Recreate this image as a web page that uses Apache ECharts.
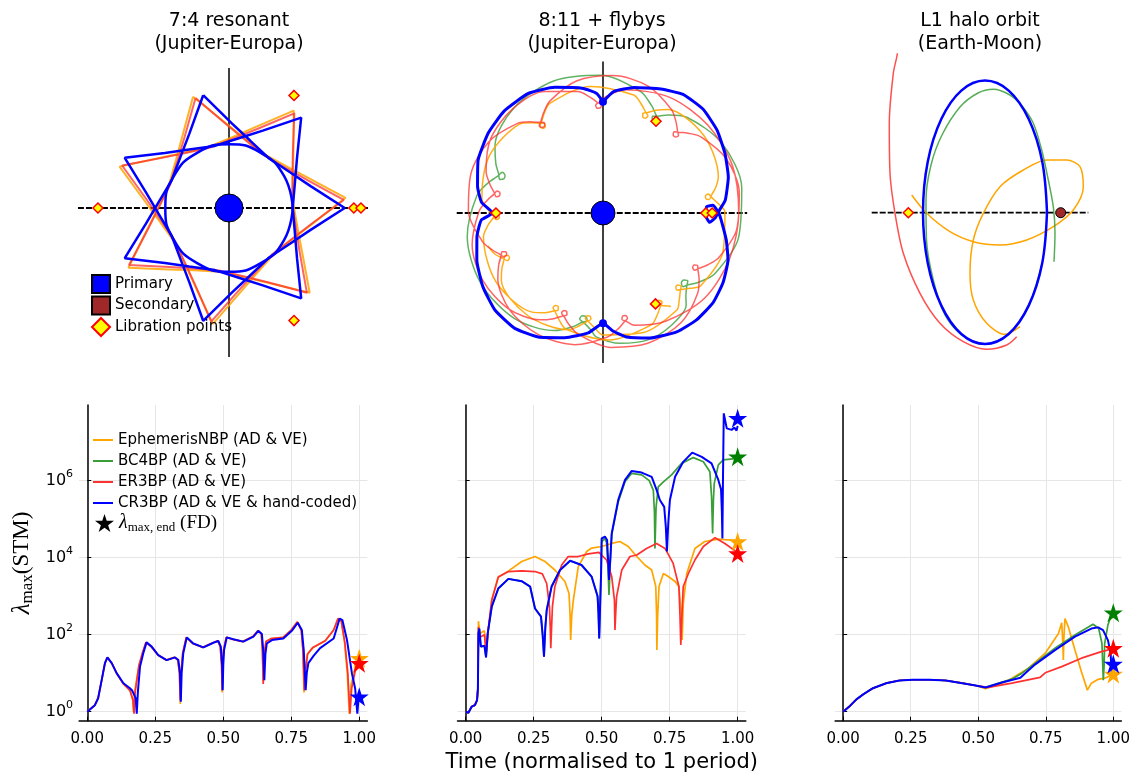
<!DOCTYPE html>
<html>
<head>
<meta charset="utf-8">
<title>STM eigenvalue growth</title>
<script src="https://cdn.jsdelivr.net/npm/echarts@6/dist/echarts.min.js"></script>
<style>
html, body { margin: 0; padding: 0; background: #fff; }
#chart { width: 1133px; height: 774px; }
</style>
</head>
<body>
<div id="chart"></div>
<script>
// ---------- names / ticks ----------
var seriesNames = ['EphemerisNBP (AD & VE)', 'BC4BP (AD & VE)', 'ER3BP (AD & VE)', 'CR3BP (AD & VE & hand-coded)'];
var xTicks = [0, 0.25, 0.5, 0.75, 1];
var yTicks = [1, 100, 10000, 1000000];
var plotTitles = [['7:4 resonant', '(Jupiter-Europa)'], ['8:11 + flybys', '(Jupiter-Europa)'], ['L1 halo orbit', '(Earth-Moon)']];

// ---------- top row: orbits, polar [r, angle deg] in units of primary-secondary distance ----------
var resBlue = [
  [0.89,102.9],[0.65,87.9],[0.545,72.9],[0.49,51.4],[0.545,30],[0.65,15],[0.89,0],
  [0.65,345],[0.545,330],[0.49,308.6],[0.545,287.1],[0.65,272.1],[0.89,257.1],
  [0.65,242.1],[0.545,227.1],[0.49,205.7],[0.545,184.3],[0.65,169.3],[0.89,154.3],
  [0.65,139.3],[0.545,124.3],[0.49,102.9],[0.545,81.4],[0.65,66.4],[0.89,51.4],
  [0.65,36.4],[0.545,21.4],[0.49,0],[0.545,338.6],[0.65,323.6],[0.89,308.6],
  [0.65,293.6],[0.545,278.6],[0.49,257.1],[0.545,235.7],[0.65,220.7],[0.89,205.7],
  [0.65,190.7],[0.545,175.7],[0.49,154.3],[0.545,132.9],[0.65,117.9],[0.89,102.9]
];
var resOrange = [
  [0.9,107.9],[0.66,92.9],[0.55,77.9],[0.495,56.4],[0.55,35],[0.66,20],[0.9,5],
  [0.66,350],[0.55,335],[0.495,313.6],[0.55,292.1],[0.66,277.1],[0.9,262.1],
  [0.66,247.1],[0.55,232.1],[0.495,210.7],[0.55,189.3],[0.66,174.3],[0.9,159.3],
  [0.66,144.3],[0.55,129.3],[0.495,107.9],[0.55,86.4],[0.66,71.4],[0.9,56.4],
  [0.66,41.4],[0.55,26.4],[0.495,5],[0.55,343.6],[0.66,328.6],[0.9,313.6],
  [0.66,298.6],[0.55,283.6],[0.495,262.1],[0.55,240.7],[0.66,225.7],[0.9,210.7],
  [0.66,195.7],[0.55,180.7],[0.495,159.3],[0.55,137.9],[0.66,122.9],[0.9,107.9]
];
var resRed = [
  [0.885,106.9],[0.645,91.9],[0.54,76.9],[0.487,55.4],[0.54,34],[0.645,19],[0.885,4],
  [0.645,349],[0.54,334],[0.487,312.6],[0.54,291.1],[0.645,276.1],[0.885,261.1],
  [0.645,246.1],[0.54,231.1],[0.487,209.7],[0.54,188.3],[0.645,173.3],[0.885,158.3],
  [0.645,143.3],[0.54,128.3],[0.487,106.9],[0.54,85.4],[0.645,70.4],[0.885,55.4],
  [0.645,40.4],[0.54,25.4],[0.487,4],[0.54,342.6],[0.645,327.6],[0.885,312.6],
  [0.645,297.6],[0.54,282.6],[0.487,261.1],[0.54,239.7],[0.645,224.7],[0.885,209.7],
  [0.645,194.7],[0.54,179.7],[0.487,158.3],[0.54,136.9],[0.645,121.9],[0.885,106.9]
];
var resCircle = [[0.49,0],[0.49,30],[0.49,60],[0.49,90],[0.49,120],[0.49,150],[0.49,180],
  [0.49,210],[0.49,240],[0.49,270],[0.49,300],[0.49,330],[0.49,360]];
var resLib = [[0.96,0],[1.015,0],[1.008,180],[1,60],[1,300]];
var resAxisH = [[1.162,180],[0,0],[1.069,0]];
var resAxisV = [[1.077,90],[0,0],[1.146,270]];

var flyBlue = [
  [1.05,90],[1.15,85],[1.22,76],[1.29,65],[1.35,56],[1.36,46],[1.33,36],[1.28,26],[1.23,16],[1.16,6],[1.10,1.5],
  [1.06,357.5],[1.01,355],[0.97,358.5],[0.98,3.5],[1.04,4],[1.10,359],
  [1.19,347.7],[1.26,339.4],[1.31,329.7],[1.34,320.7],[1.34,311.2],[1.32,301.8],[1.26,290.6],[1.19,280.8],[1.12,275],[1.04,270],
  [1.14,263],[1.23,253],[1.32,242.4],[1.37,232.6],[1.37,221.9],[1.33,211.6],[1.27,200.4],[1.21,190.6],[1.15,183.3],[1.04,180],
  [1.15,175],[1.21,168],[1.28,157],[1.32,145],[1.34,134],[1.33,122],[1.27,111],[1.19,99],[1.13,93],[1.05,90]
];
var flyOrange = [
  [1.09,306],[1.035,302.5],[1.01,300.5],[0.98,301.2],[0.98,302.8],[1.01,303.5],[1.035,301.5],[1.09,298],
  [1.15,293.3],[1.2,272.9],[1.15,252.4],
  [1.09,247.7],[1.035,244.2],[1.01,242.2],[0.98,242.9],[0.98,244.5],[1.01,245.2],[1.035,243.2],[1.09,239.7],
  [1.15,234.4],[1.2,212.9],[1.15,191.3],
  [1.09,186],[1.035,182.5],[1.01,180.5],[0.98,181.2],[0.98,182.8],[1.01,183.5],[1.035,181.5],[1.09,178],
  [1.15,173.4],[1.2,153.3],[1.15,133.2],
  [1.09,128.6],[1.035,125.1],[1.01,123.1],[0.98,123.8],[0.98,125.4],[1.01,126.1],[1.035,124.1],[1.09,120.6],
  [1.15,115.9],[1.2,95.7],[1.15,75.4],
  [1.09,70.7],[1.035,67.2],[1.01,65.2],[0.98,65.9],[0.98,67.5],[1.01,68.2],[1.035,66.2],[1.09,62.7],
  [1.15,58],[1.2,37.7],[1.14,17.4],
  [1.09,12.7],[1.035,9.2],[1.01,7.2],[0.98,7.9],[0.98,9.5],[1.01,10.2],[1.035,8.2],[1.09,4.7],
  [1.15,0.7],[1.19,342],[1.15,323.3],
  [1.09,319.3],[1.035,315.8],[1.01,313.8],[0.98,314.5],[0.98,316.1],[1.01,316.8],[1.035,314.8],[1.09,311.3],
  [1.15,307.3],[1.19,288.7],[1.15,270],
  [1.09,266],[1.035,262.5],[1.01,260.5],[0.98,261.2],[0.98,262.8],[1.01,263.5],[1.035,261.5],[1.09,258],
  [1.15,253.4],[1.2,233.5],[1.15,213.5],
  [1.09,208.9],[1.035,205.4],[1.01,203.4],[0.98,204.1],[0.98,205.7],[1.01,206.4],[1.035,204.4],[1.09,200.9],[1.13,196]
];
var flyRed = [
  [1.1,206.5],[1.045,203],[1.02,201],[0.99,201.7],[0.99,203.3],[1.02,204],[1.045,202],[1.1,198.5],
  [1.17,193.2],[1.27,179.1],[1.3,163.5],[1.27,148],[1.17,133.9],
  [1.1,128.6],[1.045,125.1],[1.02,123.1],[0.99,123.8],[0.99,125.4],[1.02,126.1],[1.045,124.1],[1.1,120.6],
  [1.17,115.3],[1.27,101.4],[1.3,85.9],[1.27,70.4],[1.17,56.5],
  [1.1,51.2],[1.045,47.7],[1.02,45.7],[0.99,46.4],[0.99,48],[1.02,48.7],[1.045,46.7],[1.1,43.2],
  [1.17,37.9],[1.27,23.9],[1.3,8.4],[1.27,352.8],[1.17,338.8],
  [1.1,333.5],[1.045,330],[1.02,328],[0.99,328.7],[0.99,330.3],[1.02,331],[1.045,329],[1.1,325.5],
  [1.17,319.8],[1.27,305.4],[1.3,289.3],[1.27,273.2],[1.17,258.7],
  [1.1,253],[1.045,249.5],[1.02,247.5],[0.99,248.2],[0.99,249.8],[1.02,250.5],[1.045,248.5],[1.1,245],
  [1.17,239.5],[1.27,225.2],[1.3,209.4],[1.27,193.6],[1.17,179.3],
  [1.1,173.8],[1.045,170.3],[1.02,168.3],[0.99,169],[0.99,170.6],[1.02,171.3],[1.045,169.3],[1.1,165.8],
  [1.17,160.5],[1.27,146.6],[1.3,131.1],[1.27,115.6],[1.17,101.7],
  [1.1,96.4],[1.045,92.9],[1.02,90.9],[0.99,91.6],[0.99,93.2],[1.02,93.9],[1.045,91.9],[1.1,88.4],
  [1.18,80],[1.26,60],[1.29,40],[1.3,20],[1.28,0],[1.27,340],[1.25,320],[1.18,300],
  [1.1,285.6],[1.045,282.1],[1.02,280.1],[0.99,280.8],[0.99,282.4],[1.02,283.1],[1.045,281.1],[1.1,277.6],
  [1.17,272.1],[1.27,257.9],[1.3,242],[1.27,226.2],[1.17,212],
  [1.1,206.5],[1.045,203]
];
var flyGreen = [
  [1.11,164.5],[1.05,160.5],[1.025,158],[0.99,159],[0.99,161],[1.025,162],[1.05,159.5],[1.11,155.5],
  [1.2,148.1],[1.3,130.3],[1.33,110.5],[1.3,90.7],[1.2,72.9],
  [1.11,65.5],[1.05,61.5],[1.025,59],[0.99,60],[0.99,62],[1.025,63],[1.05,60.5],[1.11,56.5],
  [1.2,48.8],[1.3,30.5],[1.33,10.2],[1.3,349.8],[1.2,331.5],
  [1.11,323.8],[1.05,319.8],[1.025,317.3],[0.99,318.3],[0.99,320.3],[1.025,321.3],[1.05,318.8],[1.11,314.8],
  [1.17,312.1],[1.24,301.4],[1.27,289.5],[1.24,277.5],[1.17,266.8],
  [1.11,264.1],[1.05,260.1],[1.025,257.6],[0.99,258.6],[0.99,260.6],[1.025,261.6],[1.05,259.1],[1.11,255.1],
  [1.2,247.6],[1.3,229.7],[1.33,209.8],[1.3,189.9],[1.2,172],[1.11,164.5]
];
var flyCusps = [[1.05,90],[1.04,270]];
var flyLib = [[0.97,0],[1.03,0],[1.01,180],[1,60],[0.99,300]];
var flyAxisH = [[1.38,180],[0,0],[1.36,0]];
var flyAxisV = [[1.43,90],[0,0],[1.415,270]];

// halo orbit, rotating-frame x / y (Earth-Moon units)
var haloBlue = [[0.9742,0.0004],[0.9695,0.0508],[0.9560,0.0935],[0.9359,0.1221],[0.9122,0.1321],[0.8885,0.1221],
  [0.8684,0.0935],[0.8549,0.0508],[0.8502,0.0004],[0.8549,-0.0500],[0.8684,-0.0927],[0.8885,-0.1213],
  [0.9122,-0.1313],[0.9359,-0.1213],[0.9560,-0.0927],[0.9695,-0.0500],[0.9742,0.0004]];
var haloGreen = [[0.9695,-0.0500],[0.9560,-0.0927],[0.9359,-0.1213],[0.9122,-0.1313],[0.8902,-0.1233],[0.8722,-0.1023],
  [0.8605,-0.0673],[0.8537,-0.0273],[0.8532,0.0127],[0.8582,0.0477],[0.8692,0.0777],[0.8872,0.1057],[0.9052,0.1197],
  [0.9205,0.1234],[0.9372,0.1177],[0.9492,0.1067],[0.9605,0.0894],[0.9689,0.0627],[0.9755,0.0327],[0.9805,0.0060],
  [0.9822,-0.0206],[0.9812,-0.0490]];
var haloRed = [[0.8257,0.1777],[0.8245,0.1587],[0.8205,0.1394],[0.8165,0.0894],[0.8172,0.0394],[0.8222,-0.0006],
  [0.8305,-0.0406],[0.8472,-0.0806],[0.8672,-0.1106],[0.8905,-0.1290],[0.9139,-0.1366],[0.9339,-0.1323],[0.9439,-0.1240]];
var haloOrange = [[0.8389,0.0177],[0.8539,-0.0006],[0.8772,-0.0190],[0.9005,-0.0290],[0.9272,-0.0323],[0.9539,-0.0273],
  [0.9805,-0.0140],[1.0005,0.0027],[1.0105,0.0260],[1.0072,0.0460],[0.9939,0.0527],[0.9739,0.0527],[0.9505,0.0427],
  [0.9272,0.0260],[0.9105,-0.0006],[0.9005,-0.0273],[0.8972,-0.0606],[0.9005,-0.0873],[0.9139,-0.1106],
  [0.9322,-0.1216],[0.9472,-0.1140]];
var haloLib = [[0.8355,0]];
var haloMoon = [[0.9879,0]];
var haloAxisH = [[0.7989,0],[1.0155,0]];

// ---------- bottom row: [time / period, log10 lambda_max] ----------
var stmResOrange = [[0,0],[0.028,0.17],[0.04,0.35],[0.053,0.82],[0.065,1.26],[0.074,1.41],[0.09,1.26],[0.108,1.0],[0.133,0.72],
  [0.157,0.55],[0.167,0.35],[0.17,0.0],[0.174,0.5],[0.19,1.2],[0.204,1.55],[0.216,1.8],[0.235,1.69],[0.26,1.47],[0.29,1.34],
  [0.321,1.41],[0.333,1.34],[0.339,1.0],[0.342,0.2],[0.345,1.0],[0.351,1.52],[0.364,1.93],[0.388,1.77],[0.425,1.67],
  [0.462,1.79],[0.48,1.84],[0.489,1.69],[0.494,1.2],[0.496,0.5],[0.498,1.2],[0.501,1.6],[0.511,1.93],[0.535,1.88],
  [0.572,1.82],[0.609,1.95],[0.627,2.1],[0.64,2.02],[0.644,1.6],[0.647,0.8],[0.651,1.5],[0.657,1.82],[0.677,1.9],
  [0.72,1.93],[0.75,2.12],[0.772,2.33],[0.787,2.12],[0.793,1.6],[0.797,0.5],[0.802,1.1],[0.81,1.5],[0.83,1.67],
  [0.875,1.84],[0.906,2.12],[0.922,2.42],[0.934,2.35],[0.946,1.8],[0.956,1.0],[0.961,0.3],[0.963,-0.05],[0.97,0.7],
  [0.985,1.15],[1.0,1.39]];
var stmResRed = [[0,0],[0.028,0.17],[0.04,0.35],[0.053,0.82],[0.065,1.26],[0.074,1.41],[0.09,1.26],[0.108,1.0],[0.133,0.72],
  [0.157,0.55],[0.168,0.3],[0.172,-0.05],[0.176,0.5],[0.19,1.2],[0.204,1.55],[0.216,1.8],[0.235,1.69],[0.26,1.47],[0.29,1.34],
  [0.321,1.41],[0.333,1.34],[0.339,1.0],[0.342,0.3],[0.345,1.0],[0.351,1.52],[0.364,1.93],[0.388,1.77],[0.425,1.67],
  [0.462,1.79],[0.48,1.84],[0.489,1.69],[0.494,1.2],[0.496,0.56],[0.498,1.2],[0.501,1.6],[0.511,1.93],[0.535,1.88],
  [0.572,1.82],[0.609,1.95],[0.627,2.1],[0.64,2.02],[0.644,1.6],[0.647,0.72],[0.651,1.5],[0.657,1.82],[0.677,1.9],
  [0.72,1.93],[0.75,2.12],[0.772,2.33],[0.787,2.12],[0.793,1.6],[0.798,0.56],[0.803,1.1],[0.81,1.5],[0.83,1.67],
  [0.875,1.84],[0.906,2.12],[0.922,2.42],[0.934,2.35],[0.947,1.8],[0.958,1.0],[0.963,0.3],[0.966,-0.05],[0.972,0.6],
  [0.985,1.05],[1.0,1.26]];
var stmResBlue = [[0,0],[0.028,0.17],[0.04,0.35],[0.053,0.82],[0.065,1.26],[0.074,1.41],[0.09,1.26],[0.108,1.0],[0.133,0.74],
  [0.157,0.61],[0.165,0.55],[0.178,0.35],[0.182,-0.05],[0.186,0.5],[0.194,1.17],[0.206,1.52],[0.218,1.8],[0.237,1.69],
  [0.261,1.47],[0.292,1.34],[0.323,1.41],[0.335,1.34],[0.341,1.0],[0.344,0.26],[0.347,1.0],[0.353,1.52],[0.366,1.93],
  [0.39,1.77],[0.427,1.67],[0.464,1.79],[0.482,1.84],[0.491,1.69],[0.496,1.2],[0.498,0.56],[0.5,1.2],[0.503,1.6],
  [0.513,1.93],[0.537,1.88],[0.574,1.82],[0.611,1.95],[0.629,2.1],[0.642,2.02],[0.647,1.6],[0.651,0.82],[0.655,1.5],
  [0.66,1.77],[0.679,1.86],[0.721,1.9],[0.752,2.1],[0.774,2.31],[0.789,2.12],[0.796,1.6],[0.803,0.56],[0.807,1.0],
  [0.813,1.26],[0.832,1.45],[0.856,1.65],[0.906,1.9],[0.928,2.42],[0.938,2.38],[0.955,1.86],[0.973,1.0],[0.985,0.6],
  [0.993,-0.05],[0.997,0.3],[1.0,0.39]];

var stmFlyBlue = [[0,0],[0.01,-0.03],[0.022,0.13],[0.034,0.17],[0.042,0.3],[0.045,0.6],[0.047,2.03],[0.05,2.16],[0.056,1.69],
  [0.069,1.71],[0.075,1.41],[0.081,2.03],[0.096,2.73],[0.12,3.2],[0.157,3.45],[0.206,3.39],[0.237,3.25],[0.255,2.68],
  [0.277,2.47],[0.283,2.0],[0.288,1.43],[0.293,2.2],[0.298,2.64],[0.316,3.25],[0.347,3.68],[0.384,3.92],[0.426,3.81],
  [0.463,3.51],[0.485,3.0],[0.488,2.6],[0.491,1.9],[0.495,2.9],[0.498,3.6],[0.5,4.5],[0.512,4.55],[0.52,4.46],[0.524,3.9],
  [0.527,3.42],[0.532,4.0],[0.537,4.63],[0.561,5.5],[0.586,6.02],[0.61,6.25],[0.647,6.21],[0.684,6.1],[0.702,5.76],
  [0.714,5.5],[0.73,5.32],[0.736,4.8],[0.74,4.16],[0.745,4.9],[0.751,5.5],[0.77,6.1],[0.8,6.49],[0.833,6.73],[0.868,6.62],
  [0.904,6.45],[0.929,6.02],[0.939,5.77],[0.942,5.2],[0.944,4.5],[0.946,6.0],[0.949,7.75],[0.96,7.36],[0.978,7.32],
  [0.988,7.38],[0.993,7.4],[0.996,7.3],[1.0,7.42]];
var stmFlyGreen = [[0,0],[0.01,-0.03],[0.022,0.13],[0.034,0.17],[0.042,0.3],[0.045,0.6],[0.047,2.03],[0.05,2.16],[0.056,1.69],
  [0.069,1.71],[0.075,1.41],[0.081,2.03],[0.096,2.73],[0.12,3.2],[0.157,3.45],[0.206,3.39],[0.237,3.25],[0.255,2.68],
  [0.277,2.47],[0.283,2.0],[0.288,1.43],[0.293,2.2],[0.298,2.64],[0.316,3.25],[0.347,3.68],[0.384,3.92],[0.426,3.81],
  [0.463,3.51],[0.485,3.0],[0.488,2.6],[0.491,1.9],[0.495,2.9],[0.498,3.6],[0.5,4.4],[0.51,4.5],[0.518,4.4],[0.523,3.8],
  [0.527,3.03],[0.532,3.9],[0.537,4.6],[0.561,5.45],[0.586,5.97],[0.61,6.19],[0.647,6.15],[0.675,6.0],[0.69,5.75],
  [0.694,5.2],[0.696,4.24],[0.7,5.3],[0.708,5.84],[0.727,5.97],[0.757,6.15],[0.794,6.45],[0.837,6.6],[0.874,6.49],
  [0.898,6.23],[0.904,5.6],[0.908,4.63],[0.911,5.5],[0.914,5.93],[0.929,6.41],[0.947,6.54],[1.0,6.58]];
var stmFlyOrange = [[0,0],[0.01,-0.03],[0.022,0.13],[0.034,0.17],[0.042,0.3],[0.045,0.6],[0.047,2.35],[0.052,2.03],
  [0.069,2.1],[0.077,1.56],[0.083,2.1],[0.096,2.9],[0.12,3.5],[0.157,3.65],[0.206,3.9],[0.255,4.03],[0.292,3.9],
  [0.328,3.68],[0.365,3.38],[0.38,3.07],[0.384,2.5],[0.386,1.86],[0.39,2.5],[0.396,2.9],[0.414,3.77],[0.445,4.16],
  [0.463,4.25],[0.5,4.29],[0.537,4.37],[0.567,4.42],[0.598,4.29],[0.629,4.03],[0.659,3.81],[0.684,3.68],[0.699,3.25],
  [0.702,2.5],[0.703,1.6],[0.706,2.5],[0.711,3.25],[0.727,3.59],[0.745,3.51],[0.77,3.38],[0.784,3.25],[0.792,2.6],
  [0.796,1.86],[0.8,2.8],[0.813,3.59],[0.843,4.24],[0.879,4.42],[0.929,4.48],[1.0,4.44]];
var stmFlyRed = [[0,0],[0.01,-0.03],[0.022,0.13],[0.034,0.17],[0.042,0.3],[0.045,0.6],[0.047,2.2],[0.052,1.93],[0.069,2.0],
  [0.075,1.52],[0.081,2.03],[0.096,2.9],[0.12,3.5],[0.157,3.64],[0.206,3.66],[0.255,3.64],[0.282,3.58],[0.298,3.33],
  [0.308,2.73],[0.311,2.2],[0.313,1.65],[0.316,2.2],[0.319,2.73],[0.328,3.25],[0.353,3.81],[0.377,4.03],[0.414,4.03],
  [0.451,4.1],[0.49,4.14],[0.518,3.94],[0.537,3.51],[0.547,2.9],[0.549,2.12],[0.552,2.6],[0.555,2.99],[0.574,3.68],
  [0.604,4.03],[0.629,4.07],[0.665,4.24],[0.702,4.37],[0.733,4.24],[0.763,3.85],[0.784,3.25],[0.788,2.5],[0.791,1.73],
  [0.795,2.5],[0.8,3.25],[0.819,3.59],[0.843,3.94],[0.874,4.29],[0.917,4.52],[0.953,4.37],[1.0,4.13]];

var stmHaloBlue = [[0,0],[0.025,0.15],[0.049,0.32],[0.074,0.45],[0.11,0.61],[0.159,0.74],[0.208,0.81],[0.257,0.83],
  [0.319,0.83],[0.38,0.81],[0.441,0.74],[0.49,0.68],[0.527,0.63],[0.588,0.76],[0.656,0.88],[0.674,1.0],[0.711,1.23],
  [0.784,1.6],[0.858,1.95],[0.919,2.16],[0.944,2.19],[0.962,2.12],[0.98,1.86],[0.99,1.52],[0.995,0.85],[0.996,0.85]];
var stmHaloGreen = [[0,0],[0.025,0.15],[0.049,0.32],[0.074,0.45],[0.11,0.61],[0.159,0.74],[0.208,0.81],[0.257,0.83],
  [0.319,0.83],[0.38,0.81],[0.441,0.74],[0.49,0.68],[0.527,0.63],[0.588,0.77],[0.625,0.85],[0.662,1.0],[0.711,1.26],
  [0.784,1.65],[0.858,1.99],[0.925,2.27],[0.946,2.16],[0.958,1.77],[0.961,1.2],[0.963,0.82],[0.966,1.2],[0.968,1.77],
  [0.98,2.25],[0.995,2.55]];
var stmHaloRed = [[0,0],[0.025,0.15],[0.049,0.32],[0.074,0.45],[0.11,0.61],[0.159,0.74],[0.208,0.81],[0.257,0.83],
  [0.319,0.83],[0.38,0.81],[0.441,0.74],[0.49,0.68],[0.537,0.63],[0.625,0.74],[0.729,0.89],[0.748,1.01],[0.809,1.17],
  [0.882,1.39],[0.956,1.56],[0.99,1.62]];
var stmHaloOrange = [[0,0],[0.025,0.15],[0.049,0.32],[0.074,0.45],[0.11,0.61],[0.159,0.74],[0.208,0.81],[0.257,0.83],
  [0.319,0.83],[0.38,0.81],[0.441,0.74],[0.49,0.68],[0.527,0.6],[0.588,0.74],[0.625,0.87],[0.686,1.13],[0.748,1.52],
  [0.797,2.03],[0.809,2.31],[0.813,1.8],[0.815,1.34],[0.817,1.9],[0.821,2.42],[0.833,2.21],[0.858,1.6],[0.882,1.04],
  [0.904,0.56],[0.919,0.74],[0.944,0.84],[0.968,0.87],[0.993,0.95]];

// finite-difference end values, log10 (orange, green, red, blue); null = not shown
var fdRes = [1.39, null, 1.26, 0.39];
var fdFly = [4.42, 6.62, 4.11, 7.62];
var fdHalo = [0.98, 2.57, 1.65, 1.24];

// ---------- styling ----------
var FONT = 'DejaVu Sans';
var SERIF = 'Liberation Serif';
var lineColors = ['#ffa500', '#3a9f3a', '#ff3030', '#0000ff'];
var starColors = ['#ffa500', '#008000', '#ff0000', '#0000ff'];
var STAR = 'path://M50,0 L61.2,34.5 L97.6,34.5 L68.2,55.9 L79.4,90.5 L50,69.1 L20.6,90.5 L31.8,55.9 L2.4,34.5 L38.8,34.5 Z';

function toLog(arr) {
  return arr.map(function (p) { return [p[0], Math.pow(10, p[1])]; });
}

var chart = echarts.init(document.getElementById('chart'));
var series = [];

// bottom row lines
var stmSets = [
  [stmResOrange, null, stmResRed, stmResBlue],
  [stmFlyOrange, stmFlyGreen, stmFlyRed, stmFlyBlue],
  [stmHaloOrange, stmHaloGreen, stmHaloRed, stmHaloBlue]
];
var fdSets = [fdRes, fdFly, fdHalo];
stmSets.forEach(function (set, g) {
  set.forEach(function (d, k) {
    if (!d) return;
    series.push({
      type: 'line', name: seriesNames[k], xAxisIndex: g, yAxisIndex: g,
      data: toLog(d), symbol: 'none', z: 2 + k,
      lineStyle: { color: lineColors[k], width: k === 3 ? 2 : 1.7 },
      itemStyle: { color: lineColors[k] }
    });
  });
  fdSets[g].forEach(function (v, k) {
    if (v === null) return;
    series.push({
      type: 'scatter', name: 'fd' + g + k, xAxisIndex: g, yAxisIndex: g,
      data: [[1, Math.pow(10, v)]], symbol: STAR, symbolSize: 19, z: 10,
      itemStyle: { color: starColors[k], opacity: 1 }
    });
  });
});
series.push({ type: 'scatter', name: 'FD', xAxisIndex: 0, yAxisIndex: 0, data: [], symbol: STAR,
  itemStyle: { color: '#000', opacity: 1 } });

// top row helpers
function axisLineSeries(data, dashed, opts) {
  return Object.assign({
    type: 'line', data: data, symbol: 'none', silent: true, z: 1,
    lineStyle: { color: '#000', width: dashed ? 1.8 : 1.5, type: dashed ? [6, 2] : 'solid' }
  }, opts);
}
function orbit(name, data, color, width, opts, smooth, opacity) {
  return Object.assign({
    type: 'line', name: name, data: data, symbol: 'none', smooth: smooth || false, z: 3,
    lineStyle: { color: color, width: width, opacity: opacity || 1 }, itemStyle: { color: color }
  }, opts);
}
function libPoints(data, opts) {
  return Object.assign({
    type: 'scatter', name: 'Libration points', data: data, symbol: 'diamond', symbolSize: 10, z: 8,
    itemStyle: { color: '#ffff00', borderColor: '#ff0000', borderWidth: 1.5, opacity: 1 }
  }, opts);
}
var p0 = { coordinateSystem: 'polar', polarIndex: 0 };
var p1 = { coordinateSystem: 'polar', polarIndex: 1 };
var c3 = { xAxisIndex: 3, yAxisIndex: 3 };

// 7:4 resonant
series.push(axisLineSeries(resAxisV, false, p0));
series.push(axisLineSeries(resAxisH, true, p0));
series.push(orbit(seriesNames[0], resOrange, lineColors[0], 2, p0, false, 0.85));
series.push(orbit(seriesNames[2], resRed, lineColors[2], 2, p0, false, 0.75));
series.push(orbit(seriesNames[3], resBlue, lineColors[3], 2.5, p0));
series.push(orbit(seriesNames[3], resCircle, lineColors[3], 2.5, p0, true));
series.push({ type: 'scatter', name: 'Primary', coordinateSystem: 'polar', polarIndex: 0, data: [[0, 0]], symbolSize: 28, z: 7,
  itemStyle: { color: '#0000ff', borderColor: '#000', borderWidth: 1, opacity: 1 } });
series.push(libPoints(resLib, p0));

// 8:11 + flybys
series.push(axisLineSeries(flyAxisV, false, p1));
series.push(axisLineSeries(flyAxisH, true, p1));
series.push(orbit(seriesNames[1], flyGreen, lineColors[1], 1.5, p1, 0.3, 0.8));
series.push(orbit(seriesNames[0], flyOrange, lineColors[0], 1.5, p1, 0.3, 0.9));
series.push(orbit(seriesNames[2], flyRed, lineColors[2], 1.5, p1, 0.3, 0.75));
series.push(orbit(seriesNames[3], flyBlue, lineColors[3], 3, p1, 0.15));
series.push({ type: 'scatter', coordinateSystem: 'polar', polarIndex: 1, data: flyCusps, symbolSize: 8, z: 6,
  itemStyle: { color: '#0000ff', opacity: 1 } });
series.push({ type: 'scatter', name: 'Primary', coordinateSystem: 'polar', polarIndex: 1, data: [[0, 0]], symbolSize: 24, z: 7,
  itemStyle: { color: '#0000ff', borderColor: '#000', borderWidth: 1, opacity: 1 } });
series.push(libPoints(flyLib, p1));

// L1 halo
series.push(axisLineSeries(haloAxisH, true, c3));
series.push(orbit(seriesNames[2], haloRed, lineColors[2], 1.5, c3, 0.3, 0.85));
series.push(orbit(seriesNames[0], haloOrange, lineColors[0], 1.5, c3, 0.3));
series.push(orbit(seriesNames[1], haloGreen, lineColors[1], 1.5, c3, 0.3, 0.85));
series.push(orbit(seriesNames[3], haloBlue, lineColors[3], 2.5, c3, 0.35));
series.push(libPoints(haloLib, c3));
series.push({ type: 'scatter', name: 'Secondary', xAxisIndex: 3, yAxisIndex: 3, data: haloMoon, symbolSize: 10, z: 7,
  itemStyle: { color: '#a02828', borderColor: '#000', borderWidth: 1, opacity: 1 } });

// axes
function bottomX(i) {
  return {
    gridIndex: i, type: 'value', min: -0.03, max: 1.03,
    axisLine: { show: true, onZero: false, lineStyle: { color: '#000', width: 1.5 } },
    axisTick: { show: true, inside: true, length: 4, customValues: xTicks, lineStyle: { color: '#000' } },
    axisLabel: { show: true, customValues: xTicks, color: '#000', fontSize: 15, fontFamily: FONT, margin: 11,
      formatter: function (v) { return v.toFixed(2); } },
    splitLine: { show: true, lineStyle: { color: '#e6e6e6', width: 1 } }
  };
}
function bottomY(i) {
  return {
    gridIndex: i, type: 'log', logBase: 10, min: 0.583, max: 9.25e7,
    axisLine: { show: true, lineStyle: { color: '#000', width: 1.5 } },
    axisTick: { show: true, inside: true, length: 4, customValues: yTicks, lineStyle: { color: '#000' } },
    axisLabel: {
      show: i === 0, customValues: yTicks, margin: 6, color: '#000',
      formatter: function (v) { return '{b|10}{s|' + Math.round(Math.log10(v)) + '}'; },
      rich: {
        b: { fontSize: 16, fontFamily: FONT, color: '#000', lineHeight: 24 },
        s: { fontSize: 11, fontFamily: FONT, color: '#000', lineHeight: 11, verticalAlign: 'top' }
      }
    },
    splitLine: { show: true, lineStyle: { color: '#e6e6e6', width: 1 } }
  };
}

var graphics = [];
var titleX = [229, 602, 980];
plotTitles.forEach(function (t, i) {
  t.forEach(function (line, j) {
    graphics.push({ type: 'text', x: titleX[i], y: 21 + j * 23, silent: true,
      style: { text: line, fontSize: 19, fontFamily: FONT, fill: '#000', align: 'center', verticalAlign: 'middle',
        textAlign: 'center', textVerticalAlign: 'middle' } });
  });
});
graphics.push({ type: 'text', x: 601.7, y: 763, silent: true,
  style: { text: 'Time (normalised to 1 period)', fontSize: 21, fontFamily: FONT, fill: '#000',
    align: 'center', verticalAlign: 'middle', textAlign: 'center', textVerticalAlign: 'middle' } });
graphics.push({ type: 'text', x: 22, y: 563, rotation: Math.PI / 2, silent: true,
  style: { text: '{l|λ}{s|max}{r|(STM)}', align: 'center', verticalAlign: 'middle', textAlign: 'center', textVerticalAlign: 'middle',
    rich: {
      l: { fontSize: 25, fontFamily: SERIF, fontStyle: 'italic', fill: '#000', lineHeight: 28 },
      s: { fontSize: 17, fontFamily: SERIF, fill: '#000', lineHeight: 16, verticalAlign: 'bottom' },
      r: { fontSize: 23, fontFamily: SERIF, fill: '#000', lineHeight: 28 }
    } } });

var option = {
  animation: false,
  backgroundColor: '#ffffff',
  textStyle: { fontFamily: FONT },
  polar: [{ center: [229, 208], radius: 162.5 }, { center: [603, 213], radius: 153.7 }],
  angleAxis: [
    { polarIndex: 0, type: 'value', min: 0, max: 360, startAngle: 0, clockwise: false, show: false },
    { polarIndex: 1, type: 'value', min: 0, max: 360, startAngle: 0, clockwise: false, show: false }
  ],
  radiusAxis: [
    { polarIndex: 0, type: 'value', min: 0, max: 1.25, show: false },
    { polarIndex: 1, type: 'value', min: 0, max: 1.45, show: false }
  ],
  grid: [
    { left: 79.1, top: 405, width: 288.3, height: 315.7 },
    { left: 457.5, top: 405, width: 288.3, height: 315.7 },
    { left: 835.1, top: 405, width: 288.3, height: 315.7 },
    { left: 840, top: 54, width: 280, height: 316 }
  ],
  xAxis: [bottomX(0), bottomX(1), bottomX(2),
    { gridIndex: 3, type: 'value', min: 0.7672, max: 1.0472, show: false }],
  yAxis: [bottomY(0), bottomY(1), bottomY(2),
    { gridIndex: 3, type: 'value', min: -0.1573, max: 0.1587, show: false }],
  legend: [
    { data: seriesNames, left: 88, top: 427, orient: 'vertical', icon: 'rect', itemWidth: 20, itemHeight: 2, itemGap: 5,
      selectedMode: false, textStyle: { fontSize: 15, fontFamily: FONT, color: '#000', lineHeight: 16 } },
    { data: ['FD'], left: 90, top: 508, orient: 'vertical', itemWidth: 19, itemHeight: 19, selectedMode: false,
      formatter: function () { return '{l|λ}{s|max, end}{r| (FD)}'; },
      textStyle: { color: '#000', rich: {
        l: { fontSize: 20, fontFamily: SERIF, fontStyle: 'italic', color: '#000', lineHeight: 22 },
        s: { fontSize: 13, fontFamily: SERIF, color: '#000', lineHeight: 12, verticalAlign: 'bottom' },
        r: { fontSize: 19, fontFamily: SERIF, color: '#000', lineHeight: 22 }
      } } },
    { data: [{ name: 'Primary', icon: 'rect' }, { name: 'Secondary', icon: 'rect' }, { name: 'Libration points', icon: 'diamond' }],
      left: 91, top: 274, padding: 0, orient: 'vertical', itemWidth: 18, itemHeight: 18, itemGap: 1.5, selectedMode: false,
      textStyle: { fontSize: 15, fontFamily: FONT, color: '#000', lineHeight: 18 } }
  ],
  graphic: graphics,
  series: series
};
chart.setOption(option);
</script>
</body>
</html>
